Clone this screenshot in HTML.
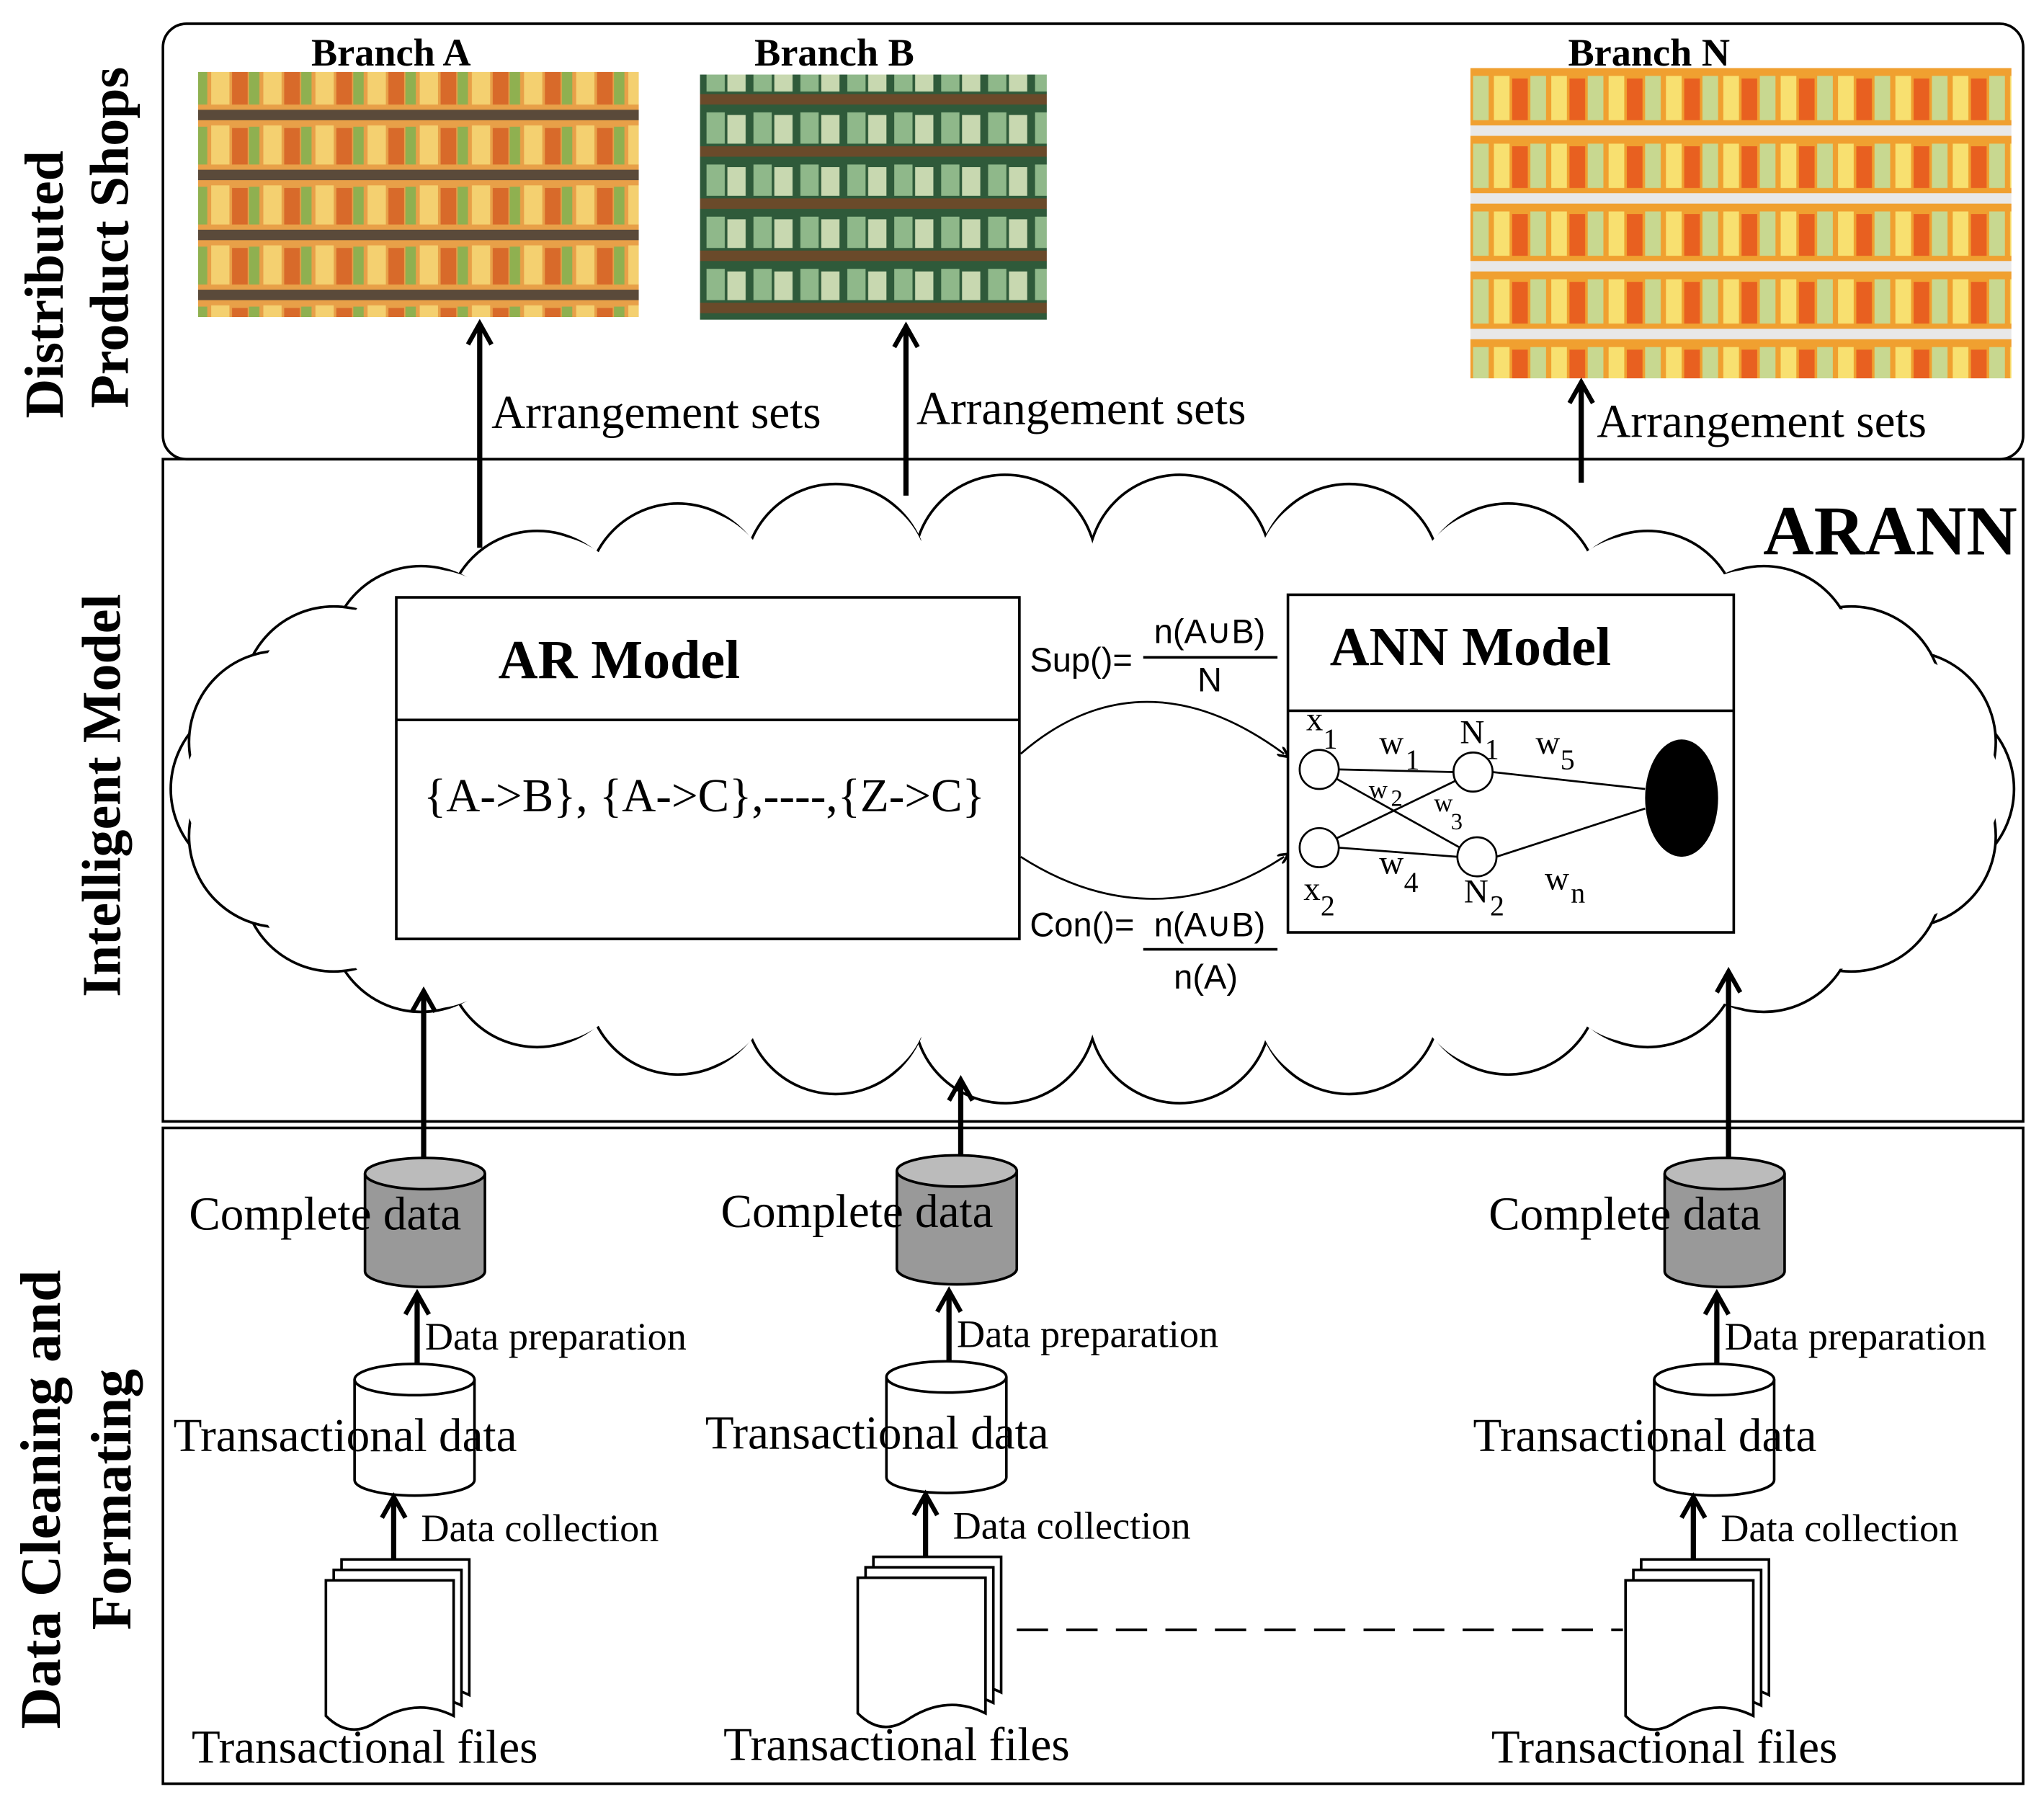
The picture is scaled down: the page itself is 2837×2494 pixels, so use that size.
<!DOCTYPE html>
<html><head><meta charset="utf-8"><style>html,body{margin:0;padding:0;background:#fff}svg{display:block}</style></head><body>
<svg width="2837" height="2494" viewBox="0 0 1568 1378" xmlns="http://www.w3.org/2000/svg" font-family="Liberation Serif, serif">
<defs>
<marker id="ah" markerWidth="8" markerHeight="8" refX="4" refY="4" orient="auto" markerUnits="userSpaceOnUse" viewBox="0 0 8 8"><path d="M0,0 L8,4 L0,8" fill="none" stroke="#000" stroke-width="2"/></marker>
<marker id="big" markerWidth="22" markerHeight="22" refX="18" refY="11" orient="auto" markerUnits="userSpaceOnUse"><path d="M2,2 L18,11 L2,20" fill="none" stroke="#000" stroke-width="3.5"/></marker>
<pattern id="shelfA" width="40" height="46" patternUnits="userSpaceOnUse"><rect width="40" height="46" fill="#e8a048"/><rect x="2" y="4" width="14" height="30" fill="#f4d070"/><rect x="18" y="6" width="12" height="28" fill="#d86a2a"/><rect x="31" y="5" width="8" height="29" fill="#8fb050"/><rect y="38" width="40" height="8" fill="#5a4a3a"/></pattern>
<pattern id="shelfB" width="36" height="40" patternUnits="userSpaceOnUse"><rect width="36" height="40" fill="#2f5a3a"/><rect x="2" y="6" width="14" height="24" fill="#8fb88a"/><rect x="18" y="8" width="14" height="22" fill="#c8d8b0"/><rect y="32" width="36" height="8" fill="#6a4a2a"/></pattern>
<pattern id="shelfN" width="44" height="52" patternUnits="userSpaceOnUse"><rect width="44" height="52" fill="#f0a030"/><rect x="2" y="6" width="12" height="34" fill="#f8e070"/><rect x="16" y="8" width="12" height="32" fill="#e86020"/><rect x="30" y="6" width="12" height="34" fill="#c8d890"/><rect y="44" width="44" height="8" fill="#e8e8e8"/></pattern>
<g id="bumps">
<circle cx="1475" cy="605" r="70"/><circle cx="201" cy="605" r="70"/>
<circle cx="1461" cy="569" r="70"/><circle cx="1420" cy="535" r="70"/><circle cx="1353" cy="504" r="70"/><circle cx="1264" cy="477" r="70"/><circle cx="1157" cy="456" r="70"/><circle cx="1035" cy="441" r="70"/><circle cx="905" cy="434" r="70"/><circle cx="771" cy="434" r="70"/><circle cx="641" cy="441" r="70"/><circle cx="520" cy="456" r="70"/><circle cx="412" cy="477" r="70"/><circle cx="323" cy="504" r="70"/><circle cx="256" cy="535" r="70"/><circle cx="215" cy="569" r="70"/>
<circle cx="1461" cy="641" r="70"/><circle cx="1420" cy="675" r="70"/><circle cx="1353" cy="706" r="70"/><circle cx="1264" cy="733" r="70"/><circle cx="1157" cy="754" r="70"/><circle cx="1035" cy="769" r="70"/><circle cx="905" cy="776" r="70"/><circle cx="771" cy="776" r="70"/><circle cx="641" cy="769" r="70"/><circle cx="520" cy="754" r="70"/><circle cx="412" cy="733" r="70"/><circle cx="323" cy="706" r="70"/><circle cx="256" cy="675" r="70"/><circle cx="215" cy="641" r="70"/>
</g>
</defs>
<rect width="1568" height="1378" fill="#fff"/>
<rect x="125" y="18" width="1427" height="334" rx="18" fill="none" stroke="#000" stroke-width="2"/>
<rect x="125" y="352" width="1427" height="508" fill="none" stroke="#000" stroke-width="2"/>
<rect x="125" y="865" width="1427" height="503" fill="none" stroke="#000" stroke-width="2"/>
<g font-weight="bold" font-size="42" text-anchor="middle">
<text transform="translate(48,218) rotate(-90)">Distributed</text>
<text transform="translate(98,182) rotate(-90)">Product Shops</text>
<text transform="translate(92,610) rotate(-90)">Intelligent Model</text>
<text transform="translate(46,1150) rotate(-90)" font-size="44">Data Cleaning and</text>
<text transform="translate(100,1150) rotate(-90)" font-size="44">Formating</text>
</g>
<rect x="152" y="55" width="338" height="188" fill="url(#shelfA)"/>
<rect x="537" y="57" width="266" height="188" fill="url(#shelfB)"/>
<rect x="1128" y="52" width="415" height="238" fill="url(#shelfN)"/>
<g font-weight="bold" font-size="30" text-anchor="middle">
<text x="300" y="50">Branch A</text><text x="640" y="50">Branch B</text><text x="1265" y="50">Branch N</text>
</g>
<!-- cloud -->
<use href="#bumps" fill="#fff" stroke="#000" stroke-width="2"/>
<use href="#bumps" fill="#fff" stroke="none" transform="translate(838,605) scale(0.985) translate(-838,-605)"/>
<ellipse cx="838" cy="605" rx="640" ry="175" fill="#fff"/>
<text x="1450" y="425" font-weight="bold" font-size="54" text-anchor="middle">ARANN</text>
<g stroke="#000" stroke-width="4" marker-end="url(#big)">
<line x1="368" y1="420" x2="368" y2="248"/><line x1="695" y1="380" x2="695" y2="250"/><line x1="1213" y1="370" x2="1213" y2="293"/>
</g>
<g font-size="36">
<text x="377" y="328">Arrangement sets</text><text x="703" y="325">Arrangement sets</text><text x="1225" y="335">Arrangement sets</text>
</g>
<rect x="304" y="458" width="478" height="262" fill="#fff" stroke="#000" stroke-width="2"/>
<line x1="304" y1="552" x2="782" y2="552" stroke="#000" stroke-width="2"/>
<text x="475" y="520" font-weight="bold" font-size="42" text-anchor="middle">AR Model</text>
<text x="325" y="622" font-size="36">{A-&gt;B}, {A-&gt;C},----,{Z-&gt;C}</text>
<rect x="988" y="456" width="342" height="259" fill="#fff" stroke="#000" stroke-width="2"/>
<line x1="988" y1="545" x2="1330" y2="545" stroke="#000" stroke-width="2"/>
<text x="1128" y="510" font-weight="bold" font-size="42" text-anchor="middle">ANN Model</text>
<g stroke="#000" stroke-width="1.5" fill="none">
<line x1="1027" y1="590" x2="1115" y2="592"/><line x1="1027" y1="650" x2="1118" y2="657"/>
<line x1="1025" y1="597" x2="1120" y2="650"/><line x1="1025" y1="643" x2="1118" y2="598"/>
<line x1="1145" y1="592" x2="1262" y2="605"/><line x1="1148" y1="657" x2="1262" y2="620"/>
<circle cx="1012" cy="590" r="15" fill="#fff"/><circle cx="1012" cy="650" r="15" fill="#fff"/>
<circle cx="1130" cy="592" r="15" fill="#fff"/><circle cx="1133" cy="657" r="15" fill="#fff"/>
</g>
<ellipse cx="1290" cy="612" rx="28" ry="45" fill="#000"/>
<g font-size="26">
<text x="1002" y="560">x</text><text x="1015" y="574" font-size="22">1</text>
<text x="1058" y="578">w</text><text x="1078" y="590" font-size="22">1</text>
<text x="1120" y="570">N</text><text x="1139" y="582" font-size="22">1</text>
<text x="1178" y="578">w</text><text x="1197" y="590" font-size="22">5</text>
<text x="1050" y="612" font-size="20">w</text><text x="1067" y="618" font-size="18">2</text>
<text x="1100" y="622" font-size="20">w</text><text x="1113" y="636" font-size="18">3</text>
<text x="1058" y="670">w</text><text x="1077" y="684" font-size="22">4</text>
<text x="1000" y="690">x</text><text x="1013" y="702" font-size="22">2</text>
<text x="1123" y="692">N</text><text x="1143" y="702" font-size="22">2</text>
<text x="1185" y="682">w</text><text x="1205" y="692" font-size="22">n</text>
</g>
<g font-family="Liberation Sans, sans-serif" font-size="26">
<text x="790" y="515">Sup()=</text>
<text x="928" y="493" text-anchor="middle">n(A∪B)</text>
<line x1="877" y1="504" x2="980" y2="504" stroke="#000" stroke-width="2"/>
<text x="928" y="530" text-anchor="middle">N</text>
<text x="790" y="718">Con()=</text>
<text x="928" y="718" text-anchor="middle">n(A∪B)</text>
<line x1="877" y1="728" x2="980" y2="728" stroke="#000" stroke-width="2"/>
<text x="925" y="758" text-anchor="middle">n(A)</text>
</g>
<g stroke="#000" stroke-width="1.5" fill="none" marker-end="url(#ah)">
<path d="M783,578 C850,520 920,530 985,578"/>
<path d="M783,657 C850,700 920,700 985,657"/>
</g>
<g stroke="#000" stroke-width="4" marker-end="url(#big)">
<line x1="325" y1="890" x2="325" y2="760"/><line x1="737" y1="888" x2="737" y2="828"/><line x1="1326" y1="888" x2="1326" y2="745"/>
</g>
<g id="col">
<path d="M280,900 L280,975 A46,12 0 0 0 372,975 L372,900" fill="#999" stroke="#000" stroke-width="2"/>
<ellipse cx="326" cy="900" rx="46" ry="12" fill="#bbb" stroke="#000" stroke-width="2"/>
<path d="M272,1058 L272,1135 A46,12 0 0 0 364,1135 L364,1058" fill="#fff" stroke="#000" stroke-width="2"/>
<ellipse cx="318" cy="1058" rx="46" ry="12" fill="#fff" stroke="#000" stroke-width="2"/>
<g stroke="#000" stroke-width="4" marker-end="url(#big)">
<line x1="320" y1="1046" x2="320" y2="992"/><line x1="302" y1="1215" x2="302" y2="1148"/>
</g>
<g fill="#fff" stroke="#000" stroke-width="2">
<path d="M262,1196 L360,1196 L360,1300 Q330,1285 300,1305 Q280,1318 262,1300 Z"/>
<path d="M256,1204 L354,1204 L354,1308 Q324,1293 294,1313 Q274,1326 256,1308 Z"/>
<path d="M250,1212 L348,1212 L348,1316 Q318,1301 288,1321 Q268,1334 250,1316 Z"/>
</g>
<g font-size="36">
<text x="145" y="943">Complete data</text>
<text x="133" y="1113">Transactional data</text>
<text x="147" y="1352">Transactional files</text>
</g>
<g font-size="30">
<text x="326" y="1035">Data preparation</text>
<text x="323" y="1182">Data collection</text>
</g>
</g>
<use href="#col" x="408" y="-2"/>
<use href="#col" x="997" y="0"/>
<line x1="780" y1="1250" x2="1245" y2="1250" stroke="#000" stroke-width="2" stroke-dasharray="24,14"/>
</svg>
</body></html>
